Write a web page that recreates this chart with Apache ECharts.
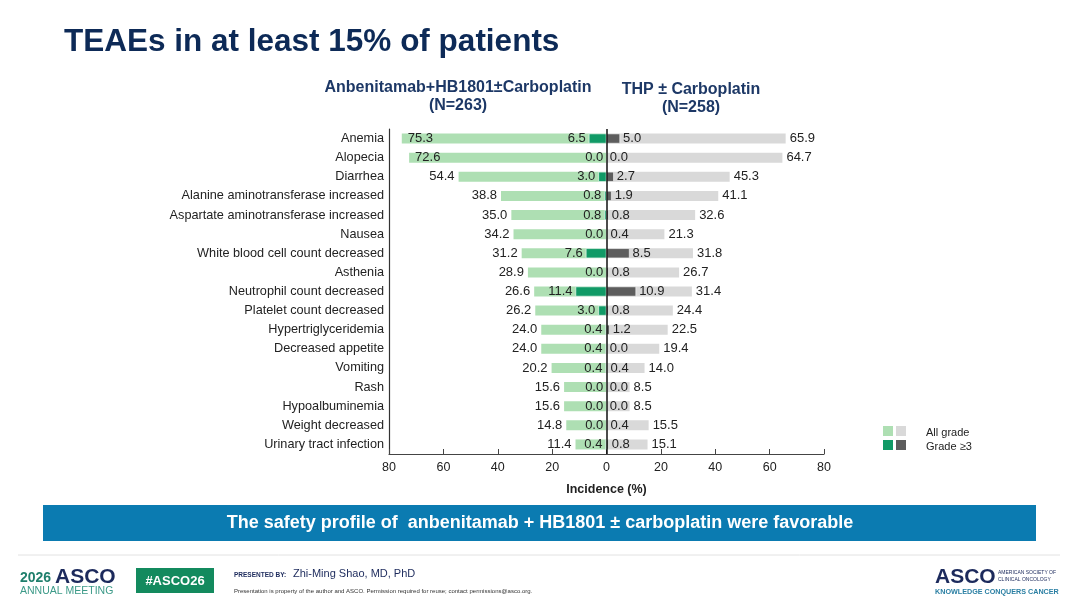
<!DOCTYPE html>
<html>
<head>
<meta charset="utf-8">
<script src="https://cdn.jsdelivr.net/npm/echarts@6/dist/echarts.min.js"></script>
<style>
  html, body { margin: 0; padding: 0; background: #fff; }
  #main { width: 1080px; height: 608px; }
</style>
</head>
<body>
<div id="main"></div>
<script>
var categories = ['Anemia', 'Alopecia', 'Diarrhea', 'Alanine aminotransferase increased',
  'Aspartate aminotransferase increased', 'Nausea', 'White blood cell count decreased',
  'Asthenia', 'Neutrophil count decreased', 'Platelet count decreased', 'Hypertriglyceridemia',
  'Decreased appetite', 'Vomiting', 'Rash', 'Hypoalbuminemia', 'Weight decreased',
  'Urinary tract infection'];
// Anbenitamab+HB1801 ± Carboplatin
var anbAll = [75.3, 72.6, 54.4, 38.8, 35.0, 34.2, 31.2, 28.9, 26.6, 26.2, 24.0, 24.0, 20.2, 15.6, 15.6, 14.8, 11.4];
var anbG3 = [6.5, 0.0, 3.0, 0.8, 0.8, 0.0, 7.6, 0.0, 11.4, 3.0, 0.4, 0.4, 0.4, 0.0, 0.0, 0.0, 0.4];
// THP ± Carboplatin
var thpAll = [65.9, 64.7, 45.3, 41.1, 32.6, 21.3, 31.8, 26.7, 31.4, 24.4, 22.5, 19.4, 14.0, 8.5, 8.5, 15.5, 15.1];
var thpG3 = [5.0, 0.0, 2.7, 1.9, 0.8, 0.4, 8.5, 0.8, 10.9, 0.8, 1.2, 0.0, 0.4, 0.0, 0.0, 0.4, 0.8];
var xTicks = [-80, 80, 20];

(function () {
  var myChart = echarts.init(document.getElementById('main'));
  var font = 'Liberation Sans, Arial, sans-serif';
  var lblColor = '#222';
  var head = '#1d3866';

  var fmt = function (p) { return Math.abs(p.value).toFixed(1); };

  // big left bars: first two labels sit inside the bar
  var anbAllData = anbAll.map(function (v, i) {
    var d = { value: -v };
    if (v > 70) d.label = { position: 'insideLeft', distance: 6 };
    return d;
  });

  var baseLabel = { show: true, fontSize: 13, color: lblColor, fontFamily: font, formatter: fmt, distance: 4 };

  option = {
    animation: false,
    textStyle: { fontFamily: font },
    grid: { left: 389, right: 256, top: 129, bottom: 154 },
    xAxis: {
      type: 'value',
      min: xTicks[0],
      max: xTicks[1],
      interval: xTicks[2],
      splitLine: { show: false },
      axisLine: { show: true, lineStyle: { color: '#444', width: 1.2 } },
      axisTick: { show: true, inside: true, length: 5, lineStyle: { color: '#444' } },
      axisLabel: { fontSize: 12.5, color: lblColor, margin: 7, formatter: function (v) { return Math.abs(v); } },
      name: 'Incidence (%)',
      nameLocation: 'middle',
      nameGap: 29,
      nameTextStyle: { fontSize: 12.5, fontWeight: 'bold', color: lblColor }
    },
    yAxis: {
      type: 'category',
      data: categories,
      inverse: true,
      axisLine: { show: true, onZero: false, lineStyle: { color: '#333', width: 1.2 } },
      axisTick: { show: false },
      axisLabel: { fontSize: 12.7, color: lblColor, margin: 5 }
    },
    series: [
      {
        name: 'anbAll', type: 'bar', data: anbAllData, barWidth: 10, barGap: '-100%',
        itemStyle: { color: '#aedfb3' },
        label: Object.assign({}, baseLabel, { position: 'left' }),
        markLine: {
          silent: true, symbol: 'none', label: { show: false },
          lineStyle: { color: '#111', width: 1.5, type: 'solid' },
          data: [{ xAxis: 0 }]
        }
      },
      {
        name: 'thpAll', type: 'bar', data: thpAll, barWidth: 10, barGap: '-100%',
        itemStyle: { color: '#d9d9d9' },
        label: Object.assign({}, baseLabel, { position: 'right' })
      },
      {
        name: 'anbG3', type: 'bar', data: anbG3.map(function (v) { return -v; }), barWidth: 10, barGap: '-100%',
        itemStyle: { color: '#119a66', borderColor: '#fff', borderWidth: 0.6 },
        label: Object.assign({}, baseLabel, { position: 'left', distance: 3 })
      },
      {
        name: 'thpG3', type: 'bar', data: thpG3, barWidth: 10, barGap: '-100%',
        itemStyle: { color: '#5d5d5d', borderColor: '#fff', borderWidth: 0.6 },
        label: Object.assign({}, baseLabel, { position: 'right', distance: 3 })
      }
    ],
    graphic: [
      { type: 'text', x: 64, y: 42, style: { text: 'TEAEs in at least 15% of patients', fontSize: 31.5, fontWeight: 'bold', fill: '#0d2a57', verticalAlign: 'middle', fontFamily: font } },
      { type: 'text', x: 458, y: 88, style: { text: 'Anbenitamab+HB1801\u00b1Carboplatin', fontSize: 16, fontWeight: 'bold', fill: head, align: 'center', verticalAlign: 'middle', fontFamily: font } },
      { type: 'text', x: 458, y: 106, style: { text: '(N=263)', fontSize: 16, fontWeight: 'bold', fill: head, align: 'center', verticalAlign: 'middle', fontFamily: font } },
      { type: 'text', x: 691, y: 90, style: { text: 'THP \u00b1 Carboplatin', fontSize: 16, fontWeight: 'bold', fill: head, align: 'center', verticalAlign: 'middle', fontFamily: font } },
      { type: 'text', x: 691, y: 108, style: { text: '(N=258)', fontSize: 16, fontWeight: 'bold', fill: head, align: 'center', verticalAlign: 'middle', fontFamily: font } },
      // legend
      { type: 'rect', shape: { x: 883, y: 426, width: 10, height: 10 }, style: { fill: '#aedfb3' } },
      { type: 'rect', shape: { x: 896, y: 426, width: 10, height: 10 }, style: { fill: '#d9d9d9' } },
      { type: 'rect', shape: { x: 883, y: 440, width: 10, height: 10 }, style: { fill: '#119a66' } },
      { type: 'rect', shape: { x: 896, y: 440, width: 10, height: 10 }, style: { fill: '#5d5d5d' } },
      { type: 'text', x: 926, y: 433, style: { text: 'All grade', fontSize: 11, fill: lblColor, verticalAlign: 'middle', fontFamily: font } },
      { type: 'text', x: 926, y: 447, style: { text: 'Grade \u22653', fontSize: 11, fill: lblColor, verticalAlign: 'middle', fontFamily: font } },
      // banner
      { type: 'rect', shape: { x: 43, y: 505, width: 993, height: 36 }, style: { fill: '#0b7bb1' } },
      { type: 'text', x: 540, y: 523, style: { text: 'The safety profile of  anbenitamab + HB1801 \u00b1 carboplatin were favorable', fontSize: 18, fontWeight: 'bold', fill: '#fff', align: 'center', verticalAlign: 'middle', fontFamily: font } },
      // footer
      { type: 'line', shape: { x1: 18, y1: 555, x2: 1060, y2: 555 }, style: { stroke: '#e2e2e2', lineWidth: 1 } },
      { type: 'text', x: 20, y: 578, style: { text: '2026', fontSize: 14, fontWeight: 'bold', fill: '#1f7f6c', verticalAlign: 'middle', fontFamily: font } },
      { type: 'text', x: 55, y: 577, style: { text: 'ASCO', fontSize: 21, fontWeight: 'bold', fill: '#1c2a5c', verticalAlign: 'middle', fontFamily: font } },
      { type: 'text', x: 20, y: 591, style: { text: 'ANNUAL MEETING', fontSize: 10.5, fill: '#3c9a88', verticalAlign: 'middle', fontFamily: font } },
      { type: 'rect', shape: { x: 136, y: 568, width: 78, height: 25 }, style: { fill: '#138a5e' } },
      { type: 'text', x: 175, y: 581, style: { text: '#ASCO26', fontSize: 13, fontWeight: 'bold', fill: '#fff', align: 'center', verticalAlign: 'middle', fontFamily: font } },
      { type: 'text', x: 234, y: 575, style: { text: 'PRESENTED BY:', fontSize: 6.5, fontWeight: 'bold', fill: '#1c2a5c', verticalAlign: 'middle', fontFamily: font } },
      { type: 'text', x: 293, y: 574, style: { text: 'Zhi-Ming Shao, MD, PhD', fontSize: 11, fill: '#1c2a5c', verticalAlign: 'middle', fontFamily: font } },
      { type: 'text', x: 234, y: 591, style: { text: 'Presentation is property of the author and ASCO. Permission required for reuse; contact permissions@asco.org.', fontSize: 6, fill: '#333', verticalAlign: 'middle', fontFamily: font } },
      { type: 'text', x: 935, y: 577, style: { text: 'ASCO', fontSize: 21, fontWeight: 'bold', fill: '#1c2a5c', verticalAlign: 'middle', fontFamily: font } },
      { type: 'text', x: 998, y: 573, style: { text: 'AMERICAN SOCIETY OF', fontSize: 5, fill: '#1c2a5c', verticalAlign: 'middle', fontFamily: font } },
      { type: 'text', x: 998, y: 580, style: { text: 'CLINICAL ONCOLOGY', fontSize: 5, fill: '#1c2a5c', verticalAlign: 'middle', fontFamily: font } },
      { type: 'text', x: 935, y: 592, style: { text: 'KNOWLEDGE CONQUERS CANCER', fontSize: 7.2, fontWeight: 'bold', fill: '#2a7fa3', verticalAlign: 'middle', fontFamily: font } }
    ]
  };

  myChart.setOption(option);
})();
</script>
</body>
</html>
